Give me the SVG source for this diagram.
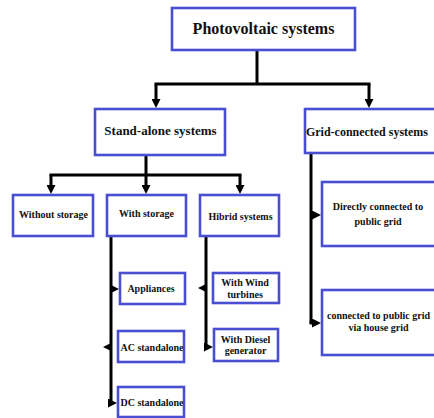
<svg xmlns="http://www.w3.org/2000/svg" width="434" height="418" viewBox="0 0 434 418">
<defs>
<style>
.box{fill:#fff;stroke:#4a4fd2;stroke-width:2.6}
.ln{fill:none;stroke:#000;stroke-width:3}
.ar{fill:none;stroke:#000;stroke-width:3;marker-end:url(#ah)}
text{font-family:"Liberation Serif","Times New Roman",serif;font-weight:bold;fill:#111;text-anchor:middle}
.t16{font-size:16px}
.t13{font-size:13px}
.t10{font-size:10px}
</style>
<marker id="ah" markerUnits="userSpaceOnUse" markerWidth="10" markerHeight="9" refX="2" refY="4.5" orient="auto">
<path d="M0,0 L9,4.5 L0,9 z" fill="#000"/>
</marker>
</defs>
<rect width="434" height="418" fill="#fff"/>
<g id="connectors">
<path class="ln" d="M257,50 V84 M154.5,84 H370.5"/>
<path class="ar" d="M156,84 V101"/>
<path class="ar" d="M369,84 V101"/>
<path class="ln" d="M146,155 V175 M49.5,175 H241.5"/>
<path class="ar" d="M51,175 V187"/>
<path class="ar" d="M146,175 V187"/>
<path class="ar" d="M240,175 V187"/>
<path class="ln" d="M111,236 V403"/>
<path class="ar" d="M111,289 H112"/>
<path class="ar" d="M111,347 H110"/>
<path class="ar" d="M109.5,403 H110"/>
<path class="ln" d="M206,236 V347"/>
<path class="ar" d="M206,288 H205"/>
<path class="ar" d="M204.5,347 H206"/>
<path class="ln" d="M311,153 V323"/>
<path class="ar" d="M311,215 H314"/>
<path class="ar" d="M309.5,323 H314"/>
</g>
<g id="photovoltaic">
<rect class="box" x="172" y="8" width="183" height="42"/>
<text class="t16" x="263.5" y="34">Photovoltaic systems</text>
</g>
<g id="standalone">
<rect class="box" x="95" y="109" width="130" height="46"/>
<text class="t13" x="160.5" y="135">Stand-alone systems</text>
</g>
<g id="gridconnected">
<rect class="box" x="305" y="109" width="140" height="44"/>
<text class="t13" x="306" y="136" style="text-anchor:start" textLength="122" lengthAdjust="spacingAndGlyphs">Grid-connected systems</text>
</g>
<g id="without">
<rect class="box" x="13" y="195" width="80" height="41"/>
<text class="t10" x="53.5" y="218">Without storage</text>
</g>
<g id="withstorage">
<rect class="box" x="107" y="195" width="79" height="41"/>
<text class="t10" x="146.5" y="217">With storage</text>
</g>
<g id="hibrid">
<rect class="box" x="200" y="195" width="79" height="41"/>
<text class="t10" x="240.5" y="220">Hibrid systems</text>
</g>
<g id="appliances">
<rect class="box" x="120" y="273" width="65" height="31"/>
<text class="t10" x="151" y="292">Appliances</text>
</g>
<g id="acstandalone">
<rect class="box" x="118" y="331" width="66" height="31"/>
<text class="t10" x="152" y="351">AC standalone</text>
</g>
<g id="dcstandalone">
<rect class="box" x="118" y="387" width="66" height="30"/>
<text class="t10" x="152" y="406">DC standalone</text>
</g>
<g id="wind">
<rect class="box" x="213" y="273" width="66" height="30"/>
<text class="t10" x="245" y="286">With Wind</text>
<text class="t10" x="245" y="297.5">turbines</text>
</g>
<g id="diesel">
<rect class="box" x="214" y="329" width="64" height="32"/>
<text class="t10" x="245.5" y="342.5">With Diesel</text>
<text class="t10" x="245.5" y="354">generator</text>
</g>
<g id="directly">
<rect class="box" x="322" y="182" width="120" height="64"/>
<text class="t10" x="378" y="210">Directly connected to</text>
<text class="t10" x="378" y="225">public grid</text>
</g>
<g id="viahouse">
<rect class="box" x="322" y="290" width="120" height="65"/>
<text class="t10" x="378.5" y="319">connected to public grid</text>
<text class="t10" x="378.5" y="331">via house grid</text>
</g>
</svg>
